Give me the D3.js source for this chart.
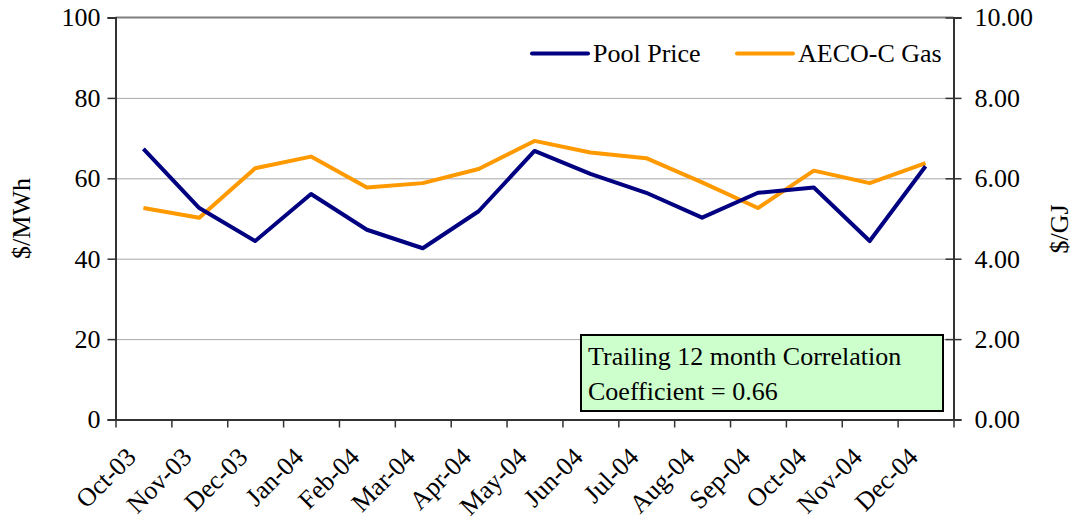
<!DOCTYPE html>
<html>
<head>
<meta charset="utf-8">
<script src="https://cdn.jsdelivr.net/npm/d3@7"></script>
<style>
  body { margin: 0; background: #fff; }
  svg { display: block; }
  text { font-family: "Liberation Serif", "Times New Roman", serif; }
  .tick text { font-size: 26px; fill: #000; }
</style>
</head>
<body>
<svg class="chart" width="1076" height="522"></svg>
<script>
// month categories
let months = ["Oct-03","Nov-03","Dec-03","Jan-04","Feb-04","Mar-04","Apr-04","May-04",
              "Jun-04","Jul-04","Aug-04","Sep-04","Oct-04","Nov-04","Dec-04"];
// pool price $/MWh
let poolPrice = [67.3, 52.6, 44.4, 56.1, 47.2, 42.6, 51.8, 66.8, 61.1, 56.4, 50.2, 56.4, 57.7, 44.4, 63.0];
// AECO-C gas $/GJ
let gasPrice = [5.26, 5.02, 6.25, 6.54, 5.77, 5.88, 6.23, 6.93, 6.64, 6.50, 5.90, 5.26, 6.19, 5.88, 6.38];
let leftTicks = [0, 20, 40, 60, 80, 100];
let rightTicks = [0, 2, 4, 6, 8, 10];

let serif = "'Liberation Serif', 'Times New Roman', serif";
let fontSize = "26px";
let svg = d3.select("svg.chart");

let plotLeft = 115.5, plotRight = 953.5, plotTop = 17.5, plotBottom = 419.5;

//scales
let xScale = d3.scaleBand()
  .domain(months)
  .range([plotLeft, plotRight])
  .paddingInner(0);
let idxScale = d3.scaleLinear()
  .domain([0, months.length])
  .range([plotLeft, plotRight]);
let yLeft = d3.scaleLinear().domain([0, 100]).range([plotBottom, plotTop]);
let yRight = d3.scaleLinear().domain([0, 10]).range([plotBottom, plotTop]);

// gridlines
let gridlines = d3.axisLeft(yLeft)
  .tickValues(leftTicks.slice(1, -1))
  .tickFormat("")
  .tickSize(-(plotRight - plotLeft));
let grid = svg.append("g")
  .attr("class", "grid")
  .attr("transform", translate(plotLeft, 0))
  .call(gridlines);
grid.select(".domain").remove();
grid.selectAll("line").attr("stroke", "#a8a8a8").attr("stroke-width", 1);

// top border
svg.append("line")
  .attr("x1", plotLeft).attr("x2", plotRight)
  .attr("y1", plotTop).attr("y2", plotTop)
  .attr("stroke", "#7f7f7f").attr("stroke-width", 2);

// left axis
let yAxisL = d3.axisLeft(yLeft).tickValues(leftTicks).tickSize(8).tickPadding(7).tickFormat(d3.format("d"));
let gL = svg.append("g").attr("transform", translate(plotLeft, 0)).call(yAxisL);
gL.attr("font-family", serif);
gL.selectAll("text").style("font-family", serif);
gL.select(".domain").attr("stroke", "#333").attr("stroke-width", 2);
gL.selectAll(".tick line").attr("stroke", "#333").attr("stroke-width", 1.5);

// right axis
let yAxisR = d3.axisRight(yRight).tickValues(rightTicks).tickSize(8).tickPadding(13).tickFormat(d3.format(".2f"));
let gR = svg.append("g").attr("transform", translate(plotRight, 0)).call(yAxisR);
gR.attr("font-family", serif);
gR.selectAll("text").style("font-family", serif);
gR.select(".domain").attr("stroke", "#333").attr("stroke-width", 2);
gR.selectAll(".tick line").attr("x1", -8).attr("stroke", "#333").attr("stroke-width", 1.5);

// bottom axis, ticks between categories
let xAxis = d3.axisBottom(idxScale).tickValues(d3.range(months.length + 1)).tickFormat("").tickSize(8).tickSizeOuter(0);
let gX = svg.append("g").attr("transform", translate(0, plotBottom)).call(xAxis);
gX.select(".domain").attr("stroke", "#333").attr("stroke-width", 2);
gX.selectAll(".tick line").attr("stroke", "#333").attr("stroke-width", 1.5);

// rotated month labels
svg.selectAll(".xlabel")
  .data(months)
  .enter().append("text")
  .attr("class", "xlabel")
  .attr("transform", d => translate(xScale(d) + xScale.bandwidth() / 2 - 6, plotBottom + 39) + " rotate(-45)")
  .attr("text-anchor", "end")
  .style("font-family", serif)
  .style("font-size", fontSize)
  .text(d => d);

// axis titles
svg.append("text")
  .attr("transform", translate(30, (plotTop + plotBottom) / 2) + " rotate(-90)")
  .attr("text-anchor", "middle")
  .style("font-family", serif)
  .style("font-size", fontSize)
  .text("$/MWh");
svg.append("text")
  .attr("transform", translate(1068, 229) + " rotate(-90)")
  .attr("text-anchor", "middle")
  .style("font-family", serif)
  .style("font-size", fontSize)
  .text("$/GJ");

// lines
let linePool = d3.line()
  .x((d, i) => xScale(months[i]) + xScale.bandwidth() / 2)
  .y(d => yLeft(d));
let lineGas = d3.line()
  .x((d, i) => xScale(months[i]) + xScale.bandwidth() / 2)
  .y(d => yRight(d));

svg.append("path")
  .datum(gasPrice)
  .attr("fill", "none")
  .attr("stroke", "#ff9900")
  .attr("stroke-width", 4)
  .attr("stroke-linejoin", "round")
  .attr("d", lineGas);

svg.append("path")
  .datum(poolPrice)
  .attr("fill", "none")
  .attr("stroke", "#000080")
  .attr("stroke-width", 4)
  .attr("stroke-linejoin", "round")
  .attr("d", linePool);

// legend
let legend = [
  {name: "Pool Price", color: "#000080", x: 532},
  {name: "AECO-C Gas", color: "#ff9900", x: 737}
];
legend.forEach(function(l) {
  svg.append("line")
    .attr("x1", l.x).attr("x2", l.x + 56)
    .attr("y1", 53.5).attr("y2", 53.5)
    .attr("stroke", l.color).attr("stroke-width", 4)
    .attr("stroke-linecap", "round");
  svg.append("text")
    .attr("x", l.x + 61)
    .attr("y", 62)
    .style("font-family", serif)
    .style("font-size", fontSize)
    .text(l.name);
});

// correlation box
svg.append("rect")
  .attr("x", 581).attr("y", 335)
  .attr("width", 362).attr("height", 76)
  .attr("fill", "#ccffcc")
  .attr("stroke", "#000")
  .attr("stroke-width", 2);
svg.append("text")
  .attr("x", 588).attr("y", 365)
  .style("font-family", serif)
  .style("font-size", fontSize)
  .text("Trailing 12 month Correlation");
svg.append("text")
  .attr("x", 588).attr("y", 400)
  .style("font-family", serif)
  .style("font-size", fontSize)
  .text("Coefficient = 0.66");

function translate(x, y) {
  return 'translate(' + x + ',' + y + ')';
}
</script>
</body>
</html>
